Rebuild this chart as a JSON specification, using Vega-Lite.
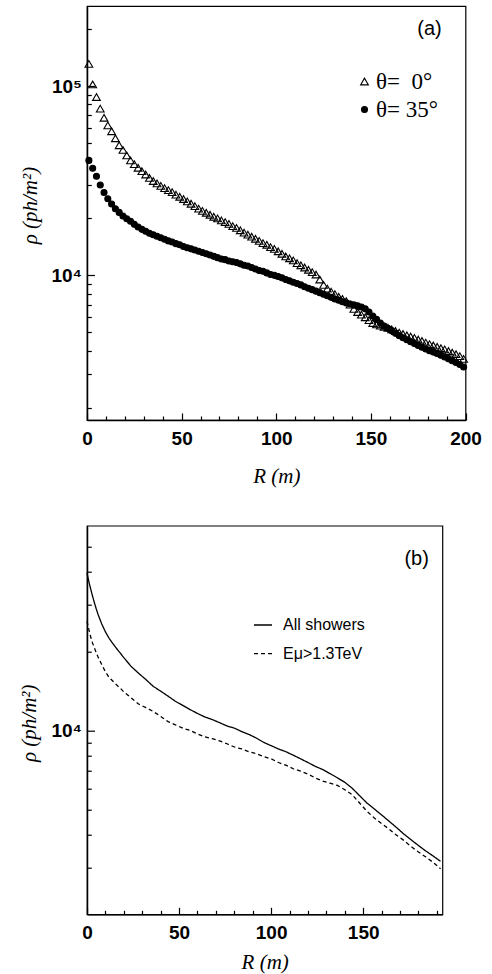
{
  "$schema": "https://vega.github.io/schema/vega-lite/v6.json",
  "padding": {"left": 17, "top": 5, "right": 0, "bottom": 0},
  "background": "white",
  "bounds": "flush",
  "spacing": 105.7,
  "datasets": {
    "a": [
      {"R":1,"rho":131000,"s":"0°"},{"R":3,"rho":102000,"s":"0°"},{"R":5,"rho":87500,"s":"0°"},{"R":7,"rho":76000,"s":"0°"},{"R":9,"rho":68000,"s":"0°"},
      {"R":11,"rho":62000,"s":"0°"},{"R":13,"rho":57700,"s":"0°"},{"R":15,"rho":53000,"s":"0°"},{"R":17,"rho":48700,"s":"0°"},{"R":19,"rho":46000,"s":"0°"},
      {"R":21,"rho":43000,"s":"0°"},{"R":23,"rho":40500,"s":"0°"},{"R":25,"rho":38700,"s":"0°"},{"R":27,"rho":37000,"s":"0°"},{"R":29,"rho":35500,"s":"0°"},
      {"R":31,"rho":34100,"s":"0°"},{"R":33,"rho":32700,"s":"0°"},{"R":35,"rho":31500,"s":"0°"},{"R":37,"rho":30600,"s":"0°"},{"R":39,"rho":29700,"s":"0°"},
      {"R":41,"rho":28900,"s":"0°"},{"R":43,"rho":28200,"s":"0°"},{"R":45,"rho":27500,"s":"0°"},{"R":47,"rho":26700,"s":"0°"},{"R":49,"rho":26000,"s":"0°"},
      {"R":51,"rho":25300,"s":"0°"},{"R":53,"rho":24600,"s":"0°"},{"R":55,"rho":23900,"s":"0°"},{"R":57,"rho":23200,"s":"0°"},{"R":59,"rho":22500,"s":"0°"},
      {"R":61,"rho":21900,"s":"0°"},{"R":63,"rho":21400,"s":"0°"},{"R":65,"rho":20900,"s":"0°"},{"R":67,"rho":20400,"s":"0°"},{"R":69,"rho":20000,"s":"0°"},
      {"R":71,"rho":19500,"s":"0°"},{"R":73,"rho":19100,"s":"0°"},{"R":75,"rho":18700,"s":"0°"},{"R":77,"rho":18200,"s":"0°"},{"R":79,"rho":17800,"s":"0°"},
      {"R":81,"rho":17300,"s":"0°"},{"R":83,"rho":16800,"s":"0°"},{"R":85,"rho":16400,"s":"0°"},{"R":87,"rho":16000,"s":"0°"},{"R":89,"rho":15600,"s":"0°"},
      {"R":91,"rho":15200,"s":"0°"},{"R":93,"rho":14800,"s":"0°"},{"R":95,"rho":14500,"s":"0°"},{"R":97,"rho":14100,"s":"0°"},{"R":99,"rho":13800,"s":"0°"},
      {"R":101,"rho":13400,"s":"0°"},{"R":103,"rho":13000,"s":"0°"},{"R":105,"rho":12600,"s":"0°"},{"R":107,"rho":12300,"s":"0°"},{"R":109,"rho":12000,"s":"0°"},
      {"R":111,"rho":11600,"s":"0°"},{"R":113,"rho":11300,"s":"0°"},{"R":115,"rho":11000,"s":"0°"},{"R":117,"rho":10700,"s":"0°"},{"R":119,"rho":10400,"s":"0°"},
      {"R":121,"rho":10100,"s":"0°"},{"R":123,"rho":9500,"s":"0°"},{"R":125,"rho":8900,"s":"0°"},{"R":127,"rho":8500,"s":"0°"},{"R":129,"rho":8200,"s":"0°"},
      {"R":131,"rho":7950,"s":"0°"},{"R":133,"rho":7700,"s":"0°"},{"R":135,"rho":7500,"s":"0°"},{"R":137,"rho":7300,"s":"0°"},{"R":139,"rho":7000,"s":"0°"},
      {"R":141,"rho":6650,"s":"0°"},{"R":143,"rho":6400,"s":"0°"},{"R":145,"rho":6200,"s":"0°"},{"R":147,"rho":6000,"s":"0°"},{"R":149,"rho":5800,"s":"0°"},
      {"R":151,"rho":5600,"s":"0°"},{"R":153,"rho":5500,"s":"0°"},{"R":155,"rho":5420,"s":"0°"},{"R":157,"rho":5350,"s":"0°"},{"R":159,"rho":5280,"s":"0°"},
      {"R":161,"rho":5180,"s":"0°"},{"R":163,"rho":5080,"s":"0°"},{"R":165,"rho":4980,"s":"0°"},{"R":167,"rho":4900,"s":"0°"},{"R":169,"rho":4820,"s":"0°"},
      {"R":171,"rho":4750,"s":"0°"},{"R":173,"rho":4670,"s":"0°"},{"R":175,"rho":4580,"s":"0°"},{"R":177,"rho":4500,"s":"0°"},{"R":179,"rho":4410,"s":"0°"},
      {"R":181,"rho":4330,"s":"0°"},{"R":183,"rho":4260,"s":"0°"},{"R":185,"rho":4190,"s":"0°"},{"R":187,"rho":4120,"s":"0°"},{"R":189,"rho":4060,"s":"0°"},
      {"R":191,"rho":3980,"s":"0°"},{"R":193,"rho":3900,"s":"0°"},{"R":195,"rho":3830,"s":"0°"},{"R":197,"rho":3740,"s":"0°"},{"R":199,"rho":3620,"s":"0°"},
      {"R":1,"rho":40500,"s":"35°"},{"R":3,"rho":36800,"s":"35°"},{"R":5,"rho":33400,"s":"35°"},{"R":7,"rho":30000,"s":"35°"},{"R":9,"rho":27400,"s":"35°"},
      {"R":11,"rho":25400,"s":"35°"},{"R":13,"rho":23800,"s":"35°"},{"R":15,"rho":22500,"s":"35°"},{"R":17,"rho":21500,"s":"35°"},{"R":19,"rho":20600,"s":"35°"},
      {"R":21,"rho":19900,"s":"35°"},{"R":23,"rho":19300,"s":"35°"},{"R":25,"rho":18600,"s":"35°"},{"R":27,"rho":18000,"s":"35°"},{"R":29,"rho":17500,"s":"35°"},
      {"R":31,"rho":17100,"s":"35°"},{"R":33,"rho":16700,"s":"35°"},{"R":35,"rho":16400,"s":"35°"},{"R":37,"rho":16100,"s":"35°"},{"R":39,"rho":15800,"s":"35°"},
      {"R":41,"rho":15500,"s":"35°"},{"R":43,"rho":15200,"s":"35°"},{"R":45,"rho":15000,"s":"35°"},{"R":47,"rho":14700,"s":"35°"},{"R":49,"rho":14500,"s":"35°"},
      {"R":51,"rho":14200,"s":"35°"},{"R":53,"rho":14000,"s":"35°"},{"R":55,"rho":13800,"s":"35°"},{"R":57,"rho":13600,"s":"35°"},{"R":59,"rho":13400,"s":"35°"},
      {"R":61,"rho":13200,"s":"35°"},{"R":63,"rho":13000,"s":"35°"},{"R":65,"rho":12800,"s":"35°"},{"R":67,"rho":12600,"s":"35°"},{"R":69,"rho":12400,"s":"35°"},
      {"R":71,"rho":12200,"s":"35°"},{"R":73,"rho":12100,"s":"35°"},{"R":75,"rho":11900,"s":"35°"},{"R":77,"rho":11800,"s":"35°"},{"R":79,"rho":11700,"s":"35°"},
      {"R":81,"rho":11500,"s":"35°"},{"R":83,"rho":11300,"s":"35°"},{"R":85,"rho":11200,"s":"35°"},{"R":87,"rho":11000,"s":"35°"},{"R":89,"rho":10800,"s":"35°"},
      {"R":91,"rho":10600,"s":"35°"},{"R":93,"rho":10500,"s":"35°"},{"R":95,"rho":10300,"s":"35°"},{"R":97,"rho":10100,"s":"35°"},{"R":99,"rho":10000,"s":"35°"},
      {"R":101,"rho":9850,"s":"35°"},{"R":103,"rho":9700,"s":"35°"},{"R":105,"rho":9500,"s":"35°"},{"R":107,"rho":9350,"s":"35°"},{"R":109,"rho":9200,"s":"35°"},
      {"R":111,"rho":9050,"s":"35°"},{"R":113,"rho":8900,"s":"35°"},{"R":115,"rho":8700,"s":"35°"},{"R":117,"rho":8550,"s":"35°"},{"R":119,"rho":8400,"s":"35°"},
      {"R":121,"rho":8250,"s":"35°"},{"R":123,"rho":8100,"s":"35°"},{"R":125,"rho":7950,"s":"35°"},{"R":127,"rho":7800,"s":"35°"},{"R":129,"rho":7650,"s":"35°"},
      {"R":131,"rho":7500,"s":"35°"},{"R":133,"rho":7380,"s":"35°"},{"R":135,"rho":7250,"s":"35°"},{"R":137,"rho":7150,"s":"35°"},{"R":139,"rho":7050,"s":"35°"},
      {"R":141,"rho":6980,"s":"35°"},{"R":143,"rho":6900,"s":"35°"},{"R":145,"rho":6800,"s":"35°"},{"R":147,"rho":6650,"s":"35°"},{"R":149,"rho":6400,"s":"35°"},
      {"R":151,"rho":6100,"s":"35°"},{"R":153,"rho":5850,"s":"35°"},{"R":155,"rho":5600,"s":"35°"},{"R":157,"rho":5400,"s":"35°"},{"R":159,"rho":5250,"s":"35°"},
      {"R":161,"rho":5100,"s":"35°"},{"R":163,"rho":4950,"s":"35°"},{"R":165,"rho":4800,"s":"35°"},{"R":167,"rho":4680,"s":"35°"},{"R":169,"rho":4570,"s":"35°"},
      {"R":171,"rho":4460,"s":"35°"},{"R":173,"rho":4360,"s":"35°"},{"R":175,"rho":4260,"s":"35°"},{"R":177,"rho":4170,"s":"35°"},{"R":179,"rho":4080,"s":"35°"},
      {"R":181,"rho":4000,"s":"35°"},{"R":183,"rho":3930,"s":"35°"},{"R":185,"rho":3860,"s":"35°"},{"R":187,"rho":3780,"s":"35°"},{"R":189,"rho":3700,"s":"35°"},
      {"R":191,"rho":3620,"s":"35°"},{"R":193,"rho":3540,"s":"35°"},{"R":195,"rho":3460,"s":"35°"},{"R":197,"rho":3380,"s":"35°"},{"R":199,"rho":3280,"s":"35°"}
    ],
    "b": [
      {"R":0,"rho":39700,"s":"All showers"},{"R":1,"rho":36800,"s":"All showers"},{"R":2,"rho":34500,"s":"All showers"},{"R":3,"rho":32400,"s":"All showers"},{"R":4,"rho":30600,"s":"All showers"},
      {"R":5,"rho":29000,"s":"All showers"},{"R":6,"rho":27600,"s":"All showers"},{"R":8,"rho":25400,"s":"All showers"},{"R":10,"rho":23700,"s":"All showers"},{"R":12,"rho":22400,"s":"All showers"},
      {"R":14,"rho":21400,"s":"All showers"},{"R":16,"rho":20500,"s":"All showers"},{"R":18,"rho":19700,"s":"All showers"},{"R":20,"rho":18900,"s":"All showers"},{"R":24,"rho":17500,"s":"All showers"},
      {"R":28,"rho":16500,"s":"All showers"},{"R":32,"rho":15600,"s":"All showers"},{"R":36,"rho":14700,"s":"All showers"},{"R":40,"rho":14100,"s":"All showers"},{"R":44,"rho":13500,"s":"All showers"},
      {"R":48,"rho":12900,"s":"All showers"},{"R":52,"rho":12450,"s":"All showers"},{"R":56,"rho":12000,"s":"All showers"},{"R":60,"rho":11600,"s":"All showers"},{"R":64,"rho":11250,"s":"All showers"},
      {"R":68,"rho":11000,"s":"All showers"},{"R":72,"rho":10700,"s":"All showers"},{"R":76,"rho":10400,"s":"All showers"},{"R":80,"rho":10200,"s":"All showers"},{"R":84,"rho":9900,"s":"All showers"},
      {"R":88,"rho":9650,"s":"All showers"},{"R":92,"rho":9350,"s":"All showers"},{"R":96,"rho":9000,"s":"All showers"},{"R":100,"rho":8750,"s":"All showers"},{"R":104,"rho":8500,"s":"All showers"},
      {"R":108,"rho":8300,"s":"All showers"},{"R":112,"rho":8050,"s":"All showers"},{"R":116,"rho":7800,"s":"All showers"},{"R":120,"rho":7550,"s":"All showers"},{"R":124,"rho":7300,"s":"All showers"},
      {"R":128,"rho":7100,"s":"All showers"},{"R":132,"rho":6850,"s":"All showers"},{"R":136,"rho":6600,"s":"All showers"},{"R":140,"rho":6350,"s":"All showers"},{"R":144,"rho":6030,"s":"All showers"},
      {"R":148,"rho":5650,"s":"All showers"},{"R":152,"rho":5300,"s":"All showers"},{"R":156,"rho":5030,"s":"All showers"},{"R":160,"rho":4770,"s":"All showers"},{"R":164,"rho":4520,"s":"All showers"},
      {"R":168,"rho":4280,"s":"All showers"},{"R":172,"rho":4040,"s":"All showers"},{"R":176,"rho":3840,"s":"All showers"},{"R":180,"rho":3650,"s":"All showers"},{"R":184,"rho":3480,"s":"All showers"},
      {"R":188,"rho":3330,"s":"All showers"},{"R":192,"rho":3180,"s":"All showers"},
      {"R":0,"rho":26000,"s":"Eμ>1.3TeV"},{"R":1,"rho":24200,"s":"Eμ>1.3TeV"},{"R":2,"rho":22700,"s":"Eμ>1.3TeV"},{"R":3,"rho":21500,"s":"Eμ>1.3TeV"},{"R":4,"rho":20600,"s":"Eμ>1.3TeV"},
      {"R":5,"rho":19800,"s":"Eμ>1.3TeV"},{"R":6,"rho":19000,"s":"Eμ>1.3TeV"},{"R":8,"rho":17800,"s":"Eμ>1.3TeV"},{"R":10,"rho":16700,"s":"Eμ>1.3TeV"},{"R":12,"rho":15900,"s":"Eμ>1.3TeV"},
      {"R":14,"rho":15400,"s":"Eμ>1.3TeV"},{"R":16,"rho":14900,"s":"Eμ>1.3TeV"},{"R":18,"rho":14500,"s":"Eμ>1.3TeV"},{"R":20,"rho":14000,"s":"Eμ>1.3TeV"},{"R":24,"rho":13300,"s":"Eμ>1.3TeV"},
      {"R":28,"rho":12600,"s":"Eμ>1.3TeV"},{"R":32,"rho":12200,"s":"Eμ>1.3TeV"},{"R":36,"rho":11800,"s":"Eμ>1.3TeV"},{"R":40,"rho":11300,"s":"Eμ>1.3TeV"},{"R":44,"rho":10800,"s":"Eμ>1.3TeV"},
      {"R":48,"rho":10500,"s":"Eμ>1.3TeV"},{"R":52,"rho":10200,"s":"Eμ>1.3TeV"},{"R":56,"rho":10000,"s":"Eμ>1.3TeV"},{"R":60,"rho":9700,"s":"Eμ>1.3TeV"},{"R":64,"rho":9450,"s":"Eμ>1.3TeV"},
      {"R":68,"rho":9300,"s":"Eμ>1.3TeV"},{"R":72,"rho":9120,"s":"Eμ>1.3TeV"},{"R":76,"rho":8900,"s":"Eμ>1.3TeV"},{"R":80,"rho":8650,"s":"Eμ>1.3TeV"},{"R":84,"rho":8500,"s":"Eμ>1.3TeV"},
      {"R":88,"rho":8300,"s":"Eμ>1.3TeV"},{"R":92,"rho":8150,"s":"Eμ>1.3TeV"},{"R":96,"rho":7950,"s":"Eμ>1.3TeV"},{"R":100,"rho":7800,"s":"Eμ>1.3TeV"},{"R":104,"rho":7550,"s":"Eμ>1.3TeV"},
      {"R":108,"rho":7380,"s":"Eμ>1.3TeV"},{"R":112,"rho":7150,"s":"Eμ>1.3TeV"},{"R":116,"rho":7000,"s":"Eμ>1.3TeV"},{"R":120,"rho":6820,"s":"Eμ>1.3TeV"},{"R":124,"rho":6600,"s":"Eμ>1.3TeV"},
      {"R":128,"rho":6420,"s":"Eμ>1.3TeV"},{"R":132,"rho":6300,"s":"Eμ>1.3TeV"},{"R":136,"rho":6180,"s":"Eμ>1.3TeV"},{"R":140,"rho":5950,"s":"Eμ>1.3TeV"},{"R":144,"rho":5700,"s":"Eμ>1.3TeV"},
      {"R":148,"rho":5300,"s":"Eμ>1.3TeV"},{"R":152,"rho":4930,"s":"Eμ>1.3TeV"},{"R":156,"rho":4650,"s":"Eμ>1.3TeV"},{"R":160,"rho":4420,"s":"Eμ>1.3TeV"},{"R":164,"rho":4220,"s":"Eμ>1.3TeV"},
      {"R":168,"rho":4000,"s":"Eμ>1.3TeV"},{"R":172,"rho":3820,"s":"Eμ>1.3TeV"},{"R":176,"rho":3620,"s":"Eμ>1.3TeV"},{"R":180,"rho":3450,"s":"Eμ>1.3TeV"},{"R":184,"rho":3300,"s":"Eμ>1.3TeV"},
      {"R":188,"rho":3150,"s":"Eμ>1.3TeV"},{"R":192,"rho":2980,"s":"Eμ>1.3TeV"}
    ]
  },
  "vconcat": [
    {
      "width": 378.5,
      "height": 414,
      "layer": [
        {
          "data": {"name": "a"},
          "mark": {"type": "point", "strokeWidth": 1.1, "opacity": 1},
          "encoding": {
            "x": {"field": "R", "type": "quantitative",
                  "scale": {"domain": [0, 200], "nice": false, "zero": false},
                  "axis": {"orient": "bottom", "values": [0, 50, 100, 150, 200], "tickSize": -7, "labelPadding": 16, "labelFlush": false,
                           "title": "R (m)", "titleY": 56, "titleBaseline": "middle"}},
            "y": {"field": "rho", "type": "quantitative",
                  "scale": {"type": "log", "domain": [1720, 265000], "nice": false},
                  "axis": {"orient": "left", "values": [10000, 100000], "labelExpr": "datum.value == 10000 ? '10⁴' : '10⁵'",
                           "tickSize": -7.5, "labelPadding": 13, "title": "ρ (ph/m²)", "titleX": -57, "titleY": 199,
                           "titleAngle": 270, "titleBaseline": "middle", "titleAlign": "center"}},
            "shape": {"field": "s", "type": "nominal",
                      "scale": {"domain": ["0°", "35°"], "range": ["triangle-up", "circle"]},
                      "legend": {"orient": "none", "legendX": 266, "legendY": 64, "title": null,
                                 "labelFont": "Liberation Serif", "labelFontSize": 23, "rowPadding": 4, "padding": 0,
                                 "labelOffset": 0, "symbolStrokeWidth": 1.1,
                                 "labelExpr": "datum.label == '0°' ? 'θ=\u00a0\u00a00°' : 'θ=\u00a035°'"}},
            "fill": {"field": "s", "type": "nominal",
                     "scale": {"domain": ["0°", "35°"], "range": ["transparent", "black"]},
                     "legend": {"orient": "none", "legendX": 266, "legendY": 64, "title": null,
                                "labelFont": "Liberation Serif", "labelFontSize": 23, "rowPadding": 4, "padding": 0,
                                "labelOffset": 0, "symbolStrokeWidth": 1.1,
                                "labelExpr": "datum.label == '0°' ? 'θ=\u00a0\u00a00°' : 'θ=\u00a035°'"}},
            "stroke": {"field": "s", "type": "nominal",
                       "scale": {"domain": ["0°", "35°"], "range": ["black", "black"]},
                       "legend": {"orient": "none", "legendX": 266, "legendY": 64, "title": null,
                                  "labelFont": "Liberation Serif", "labelFontSize": 23, "rowPadding": 4, "padding": 0,
                                  "labelOffset": 0, "symbolStrokeWidth": 1.1,
                                  "labelExpr": "datum.label == '0°' ? 'θ=\u00a0\u00a00°' : 'θ=\u00a035°'"}},
            "size": {"field": "s", "type": "nominal",
                     "scale": {"domain": ["0°", "35°"], "range": [60, 36]},
                     "legend": {"orient": "none", "legendX": 266, "legendY": 64, "title": null,
                                "labelFont": "Liberation Serif", "labelFontSize": 23, "rowPadding": 4, "padding": 0,
                                "labelOffset": 0, "symbolStrokeWidth": 1.1,
                                "labelExpr": "datum.label == '0°' ? 'θ=\u00a0\u00a00°' : 'θ=\u00a035°'"}}
          }
        },
        {
          "data": {"values": [{}]},
          "mark": {"type": "text", "text": "(a)", "font": "Liberation Sans", "fontSize": 20, "align": "center", "baseline": "middle", "color": "black"},
          "encoding": {
            "x": {"datum": 181, "type": "quantitative",
                  "scale": {"domain": [0, 200], "nice": false, "zero": false},
                  "axis": {"orient": "bottom", "values": [10,20,30,40,60,70,80,90,110,120,130,140,160,170,180,190], "tickSize": -4, "labels": false, "domain": false, "title": null}},
            "y": {"datum": 200000, "type": "quantitative",
                  "scale": {"type": "log", "domain": [1720, 265000], "nice": false},
                  "axis": {"orient": "left", "values": [2000,3000,4000,5000,6000,7000,8000,9000,20000,30000,40000,50000,60000,70000,80000,90000,200000], "tickSize": -4.3, "labels": false, "domain": false, "title": null}}
          }
        }
      ],
      "resolve": {"axis": {"x": "independent", "y": "independent"}}
    },
    {
      "width": 355.4,
      "height": 388.6,
      "layer": [
        {
          "data": {"name": "b"},
          "mark": {"type": "line", "color": "black", "strokeWidth": 1.3},
          "encoding": {
            "x": {"field": "R", "type": "quantitative",
                  "scale": {"domain": [0, 193], "nice": false, "zero": false},
                  "axis": {"orient": "bottom", "values": [0, 50, 100, 150], "tickSize": -7, "labelPadding": 16, "labelFlush": false,
                           "title": "R (m)", "titleY": 48.5, "titleBaseline": "middle"}},
            "y": {"field": "rho", "type": "quantitative",
                  "scale": {"type": "log", "domain": [2000, 60000], "nice": false},
                  "axis": {"orient": "left", "values": [10000], "labelExpr": "'10⁴'",
                           "tickSize": -7.5, "labelPadding": 13, "title": "ρ (ph/m²)", "titleX": -58, "titleY": 197,
                           "titleAngle": 270, "titleBaseline": "middle", "titleAlign": "center"}},
            "strokeDash": {"field": "s", "type": "nominal",
                           "scale": {"domain": ["All showers", "Eμ>1.3TeV"], "range": [[1, 0], [4, 3]]},
                           "legend": {"orient": "none", "legendX": 166, "legendY": 609, "title": null,
                                      "labelFont": "Liberation Sans", "labelFontSize": 16, "symbolSize": 324, "symbolType": "stroke",
                                      "rowPadding": 10.7, "padding": 0, "labelOffset": 10, "symbolStrokeColor": "black", "symbolStrokeWidth": 1.3,
                                      "labelExpr": "datum.label == 'All showers' ? 'All showers' : '\u00a0Eμ>1.3TeV'"}}
          }
        },
        {
          "data": {"values": [{}]},
          "mark": {"type": "text", "text": "(b)", "font": "Liberation Sans", "fontSize": 20, "align": "center", "baseline": "middle", "color": "black"},
          "encoding": {
            "x": {"datum": 179, "type": "quantitative",
                  "scale": {"domain": [0, 193], "nice": false, "zero": false},
                  "axis": {"orient": "bottom", "values": [10,20,30,40,60,70,80,90,110,120,130,140,160,170,180,190], "tickSize": -4, "labels": false, "domain": false, "title": null}},
            "y": {"datum": 44800, "type": "quantitative",
                  "scale": {"type": "log", "domain": [2000, 60000], "nice": false},
                  "axis": {"orient": "left", "values": [3000,4000,5000,6000,7000,8000,9000,20000,30000,40000,50000], "tickSize": -4.3, "labels": false, "domain": false, "title": null}}
          }
        }
      ],
      "resolve": {"axis": {"x": "independent", "y": "independent"}}
    }
  ],
  "config": {
    "view": {"stroke": "black", "strokeWidth": 1.2},
    "axis": {
      "grid": false,
      "domainColor": "black", "domainWidth": 1.5,
      "tickColor": "black", "tickWidth": 1.2,
      "labelColor": "black", "labelFont": "Liberation Sans", "labelFontWeight": "bold", "labelFontSize": 19,
      "titleColor": "black", "titleFont": "Liberation Serif", "titleFontStyle": "italic", "titleFontWeight": "normal", "titleFontSize": 21
    }
  }
}
